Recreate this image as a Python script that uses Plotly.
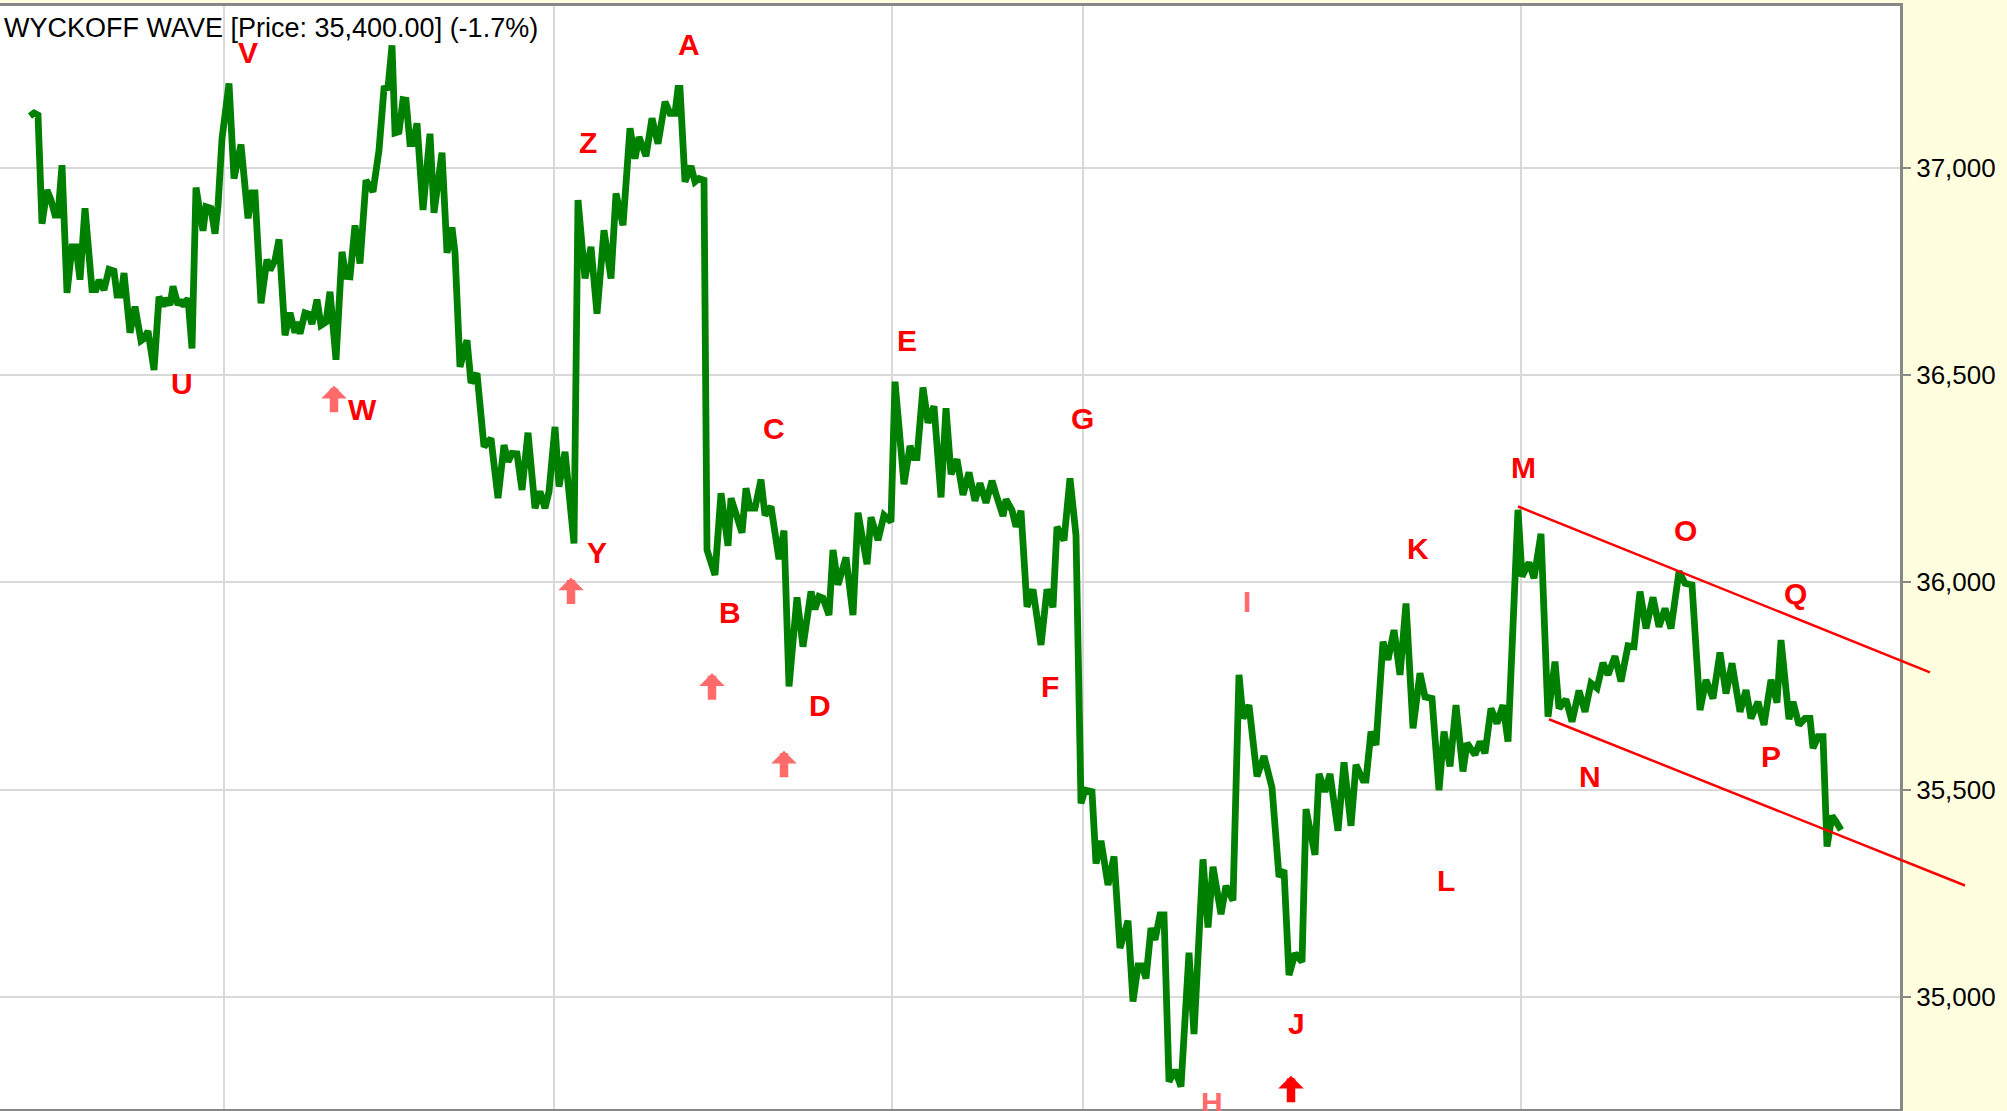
import plotly.graph_objects as go

# ---------------- data ----------------
t = [30, 34, 38, 42, 47, 51, 55, 58, 62, 67, 72, 76, 80, 85, 92, 96, 99, 104, 109, 114,
     117, 121, 124, 130, 135, 141, 144, 148, 154, 159, 163, 166, 170, 173, 178, 181, 184, 188, 192, 196,
     203, 206, 211, 215, 218, 222, 229, 234, 241, 248, 252, 255, 261, 267, 270, 275, 279, 285, 290, 295,
     297, 300, 305, 309, 312, 317, 321, 326, 330, 336, 342, 346, 350, 355, 360, 366, 373, 379, 384, 388,
     392, 395, 399, 403, 406, 410, 413, 417, 423, 430, 434, 442, 447, 452, 455, 460, 467, 471, 477, 484,
     491, 498, 504, 508, 512, 517, 522, 528, 535, 540, 545, 549, 555, 559, 565, 574, 578, 585, 591, 597,
     604, 611, 616, 623, 630, 635, 639, 646, 652, 658, 665, 670, 675, 678, 680, 685, 691, 695, 699, 704,
     707, 715, 721, 728, 731, 742, 746, 750, 755, 761, 765, 771, 779, 784, 789, 797, 803, 811, 815, 819,
     823, 829, 833, 838, 846, 853, 858, 867, 871, 878, 884, 891, 895, 904, 910, 914, 917, 923, 928, 934,
     941, 946, 951, 957, 963, 969, 975, 980, 986, 992, 997, 1003, 1006, 1012, 1016, 1021, 1027, 1033, 1041, 1047,
     1053, 1057, 1064, 1070, 1076, 1081, 1085, 1092, 1096, 1101, 1108, 1114, 1120, 1128, 1133, 1138, 1142, 1146, 1151, 1155,
     1160, 1164, 1169, 1175, 1181, 1189, 1194, 1203, 1208, 1213, 1221, 1226, 1233, 1239, 1243, 1249, 1257, 1264, 1272, 1279,
     1284, 1289, 1295, 1302, 1306, 1315, 1319, 1325, 1330, 1338, 1344, 1351, 1356, 1363, 1366, 1371, 1376, 1383, 1388, 1394,
     1400, 1406, 1413, 1420, 1425, 1432, 1439, 1444, 1450, 1456, 1463, 1467, 1475, 1480, 1485, 1491, 1497, 1503, 1508, 1518,
     1522, 1529, 1534, 1541, 1548, 1555, 1559, 1566, 1572, 1579, 1585, 1591, 1597, 1603, 1608, 1615, 1621, 1628, 1634, 1640,
     1646, 1653, 1659, 1665, 1671, 1679, 1685, 1692, 1700, 1706, 1713, 1720, 1726, 1732, 1740, 1746, 1751, 1758, 1764, 1771,
     1777, 1781, 1789, 1793, 1799, 1805, 1810, 1813, 1818, 1823, 1827, 1832, 1836, 1841]

price = [37125, 37132, 37127, 36865, 36946, 36922, 36886, 36886, 37006, 36698, 36809, 36809, 36730, 36902, 36706, 36706, 36729, 36705, 36755, 36751,
         36693, 36693, 36746, 36602, 36665, 36583, 36588, 36606, 36512, 36689, 36666, 36685, 36669, 36714, 36669, 36681, 36666, 36685, 36564, 36952,
         36848, 36906, 36902, 36841, 36907, 37070, 37203, 36974, 37056, 36878, 36939, 36939, 36673, 36779, 36753, 36777, 36827, 36596, 36650, 36602,
         36628, 36600, 36650, 36647, 36623, 36682, 36620, 36628, 36701, 36537, 36797, 36738, 36737, 36861, 36769, 36970, 36942, 37042, 37191, 37193,
         37295, 37084, 37087, 37164, 37163, 37058, 37058, 37107, 36898, 37082, 36891, 37036, 36795, 36856, 36795, 36520, 36584, 36481, 36504, 36327,
         36347, 36203, 36331, 36291, 36311, 36310, 36223, 36361, 36179, 36219, 36179, 36219, 36375, 36231, 36315, 36094, 36922, 36733, 36809, 36648,
         36849, 36733, 36938, 36861, 37095, 37022, 37074, 37028, 37119, 37058, 37159, 37131, 37131, 37191, 37191, 36966, 37004, 36966, 36974, 36970,
         36078, 36018, 36215, 36088, 36203, 36120, 36227, 36179, 36179, 36248, 36162, 36183, 36056, 36125, 35749, 35964, 35845, 35978, 35935, 35966,
         35962, 35921, 36078, 35994, 36060, 35921, 36168, 36044, 36157, 36102, 36162, 36146, 36484, 36237, 36329, 36301, 36301, 36470, 36385, 36425,
         36205, 36420, 36261, 36297, 36211, 36265, 36197, 36239, 36192, 36245, 36205, 36160, 36200, 36174, 36134, 36173, 35941, 35983, 35849, 35983,
         35940, 36134, 36101, 36251, 36114, 35467, 35499, 35495, 35322, 35377, 35270, 35339, 35118, 35184, 34989, 35075, 35075, 35045, 35166, 35138,
         35198, 35198, 34796, 34824, 34784, 35107, 34911, 35332, 35168, 35314, 35200, 35268, 35233, 35777, 35672, 35704, 35532, 35581, 35505, 35290,
         35306, 35053, 35105, 35085, 35453, 35343, 35538, 35495, 35538, 35401, 35566, 35413, 35560, 35523, 35523, 35640, 35608, 35857, 35813, 35885,
         35777, 35949, 35648, 35781, 35724, 35720, 35499, 35640, 35556, 35704, 35544, 35612, 35584, 35616, 35588, 35696, 35660, 35704, 35616, 36175,
         36014, 36048, 36010, 36117, 35676, 35809, 35696, 35718, 35664, 35739, 35688, 35757, 35745, 35806, 35777, 35822, 35761, 35847, 35845, 35978,
         35889, 35964, 35893, 35937, 35889, 36026, 35998, 35994, 35692, 35765, 35720, 35831, 35732, 35805, 35688, 35740, 35672, 35712, 35656, 35765,
         35710, 35861, 35670, 35712, 35656, 35672, 35672, 35600, 35628, 35628, 35363, 35437, 35423, 35403]

session_breaks = [224, 554, 892, 1083, 1521]
y_ticks = [35000, 35500, 36000, 36500, 37000]

wave_labels = ["V", "U", "W", "Z", "Y", "A", "B", "C", "D", "E", "F",
               "G", "H", "I", "J", "K", "L", "M", "N", "O", "P", "Q"]
label_t = [248, 182, 362, 588, 597, 689, 730, 774, 820, 907, 1050,
           1082, 1212, 1247, 1296, 1418, 1446, 1523, 1590, 1685, 1771, 1795]
label_price = [37277, 36480, 36418, 37060, 36071, 37296, 35927, 36370, 35704, 36583, 35748,
               36396, 34745, 35955, 34937, 36081, 35282, 36276, 35533, 36126, 35580, 35972]
faded_labels = ["H", "I"]

signal_t = [334, 571, 712, 784, 1291]
signal_price = [36474, 36012, 35781, 35594, 34810]
signal_strong = [False, False, False, False, True]

channel_upper_t = [1518, 1930]
channel_upper_p = [36183, 35783]
channel_lower_t = [1549, 1965]
channel_lower_p = [35670, 35269]

last_price = 35400.00
change_pct = -1.7

# ---------------- layout constants ----------------
W, H = 2007, 1111
PLOT_RIGHT = 1900
T_RANGE = [0, 1900]
Y_RANGE = [34730, 37390]
FONT = "Liberation Sans, Arial, Helvetica, sans-serif"
RED = "#ff0000"
PINK = "#ff6b6b"
GREEN = "#008000"

fig = go.Figure()

fig.add_trace(go.Scatter(x=t, y=price, mode="lines",
                         line=dict(color=GREEN, width=6.8),
                         hoverinfo="skip", showlegend=False,
                         xaxis="x", yaxis="y"))

for ct, cp in [(channel_upper_t, channel_upper_p), (channel_lower_t, channel_lower_p)]:
    fig.add_trace(go.Scatter(x=ct, y=cp, mode="lines",
                             line=dict(color=RED, width=2.5),
                             hoverinfo="skip", showlegend=False,
                             xaxis="x2", yaxis="y2"))

annotations = []
for lab, lt, lp in zip(wave_labels, label_t, label_price):
    annotations.append(dict(
        x=lt, y=lp, xref="x", yref="y", text="<b>%s</b>" % lab, showarrow=False,
        font=dict(family=FONT, size=30, color=PINK if lab in faded_labels else RED),
        xanchor="center", yanchor="middle"))

for st, sp, strong in zip(signal_t, signal_price, signal_strong):
    col = RED if strong else PINK
    annotations.append(dict(
        x=st, y=sp, xref="x", yref="y", text="", showarrow=True,
        ax=0, ay=28, axref="pixel", ayref="pixel",
        arrowhead=1, arrowwidth=8.5, arrowsize=0.5, arrowcolor=col, standoff=0))

annotations.append(dict(
    x=0, y=1, xref="x domain", yref="y domain", xanchor="left", yanchor="top",
    xshift=2, yshift=-5, showarrow=False,
    text="WYCKOFF WAVE [Price: {:,.2f}] ({:.1f}%)".format(last_price, change_pct),
    font=dict(family=FONT, size=27, color="#000000")))

shapes = [dict(type="rect", xref="x domain", yref="y domain", x0=0, x1=1, y0=0, y1=1,
               fillcolor="#ffffff", line=dict(width=0), layer="below")]

fig.update_layout(
    width=W, height=H, autosize=False,
    margin=dict(l=0, r=0, t=6, b=2, pad=0),
    paper_bgcolor="#ffffe0", plot_bgcolor="rgba(0,0,0,0)",
    showlegend=False,
    xaxis=dict(domain=[0, PLOT_RIGHT / W], range=T_RANGE, tickvals=session_breaks,
               showticklabels=False, ticks="", showgrid=True, gridcolor="#d9d9d9", gridwidth=2,
               zeroline=False, showline=True, mirror=True, linecolor="#888888", linewidth=3,
               anchor="y"),
    yaxis=dict(domain=[0, 1], range=Y_RANGE, side="right", tickvals=y_ticks,
               ticktext=["{:,}".format(v) for v in y_ticks],
               ticks="outside", ticklen=8, tickwidth=2, tickcolor="#888888",
               tickfont=dict(family=FONT, size=26, color="#000000"),
               showgrid=True, gridcolor="#d9d9d9", gridwidth=2, zeroline=False,
               showline=True, linecolor="#888888", linewidth=3, anchor="x"),
    xaxis2=dict(domain=[0, 1], range=[T_RANGE[0], T_RANGE[0] + (T_RANGE[1] - T_RANGE[0]) * W / PLOT_RIGHT],
                visible=False, anchor="y2"),
    yaxis2=dict(domain=[0, 1], range=Y_RANGE, visible=False, anchor="x2"),
    annotations=annotations,
    shapes=shapes,
)

fig.write_html("out.html", config={"displayModeBar": False},
               post_script="document.body.style.margin='0';document.body.style.overflow='hidden';")
